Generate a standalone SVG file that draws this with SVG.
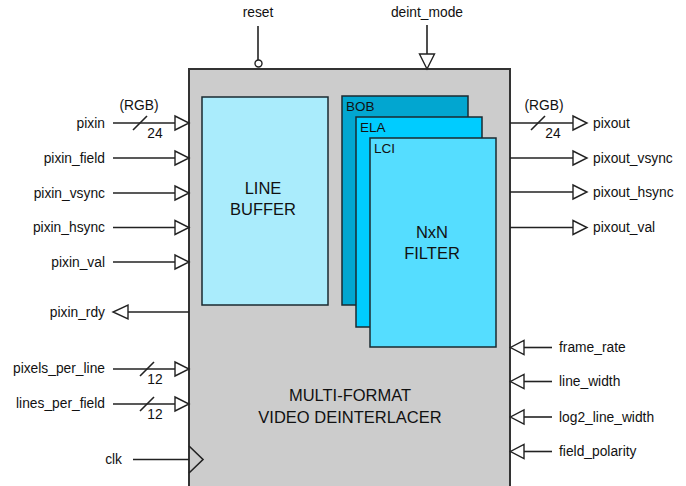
<svg xmlns="http://www.w3.org/2000/svg" width="686" height="486" viewBox="0 0 686 486">
<style>
text{font-family:"Liberation Sans",Arial,sans-serif;fill:#111}
.lbl{font-size:13.8px}
.big{font-size:16.5px}
.sm{font-size:13.5px}
.w{stroke:#222;stroke-width:1.6;fill:none}
.tri{stroke:#222;stroke-width:1.4;fill:#fff;stroke-linejoin:miter}
.box{stroke:#1a2a30;stroke-width:1.5}
</style>
<rect width="686" height="486" fill="#fff"/>
<g id="deinterlacer">
<rect x="189" y="69" width="321" height="430" fill="#cccccc" stroke="#333" stroke-width="2"/>
<text class="big" x="350" y="401" text-anchor="middle">MULTI-FORMAT</text>
<text class="big" x="350" y="423" text-anchor="middle">VIDEO DEINTERLACER</text>
</g>
<g id="line_buffer">
<rect class="box" x="202" y="97" width="126" height="208" fill="#aaecfc"/>
<text class="big" x="263" y="194" text-anchor="middle">LINE</text>
<text class="big" x="263" y="215" text-anchor="middle">BUFFER</text>
</g>
<g id="bob">
<rect class="box" x="342" y="96" width="126" height="209" fill="#02a6d0"/>
<text class="sm" x="346" y="111">BOB</text>
</g>
<g id="ela">
<rect class="box" x="356" y="117" width="126" height="210" fill="#00ccff"/>
<text class="sm" x="360" y="132">ELA</text>
</g>
<g id="lci">
<rect class="box" x="370" y="138" width="126" height="209" fill="#55ddff"/>
<text class="sm" x="374" y="153">LCI</text>
<text class="big" x="432" y="238" text-anchor="middle">NxN</text>
<text class="big" x="432" y="259" text-anchor="middle">FILTER</text>
</g>
<g id="connectors">
<line class="w" x1="258" y1="26" x2="258" y2="60"/>
<circle cx="258.5" cy="63.5" r="3.5" fill="#fff" stroke="#222" stroke-width="1.4"/>
<line class="w" x1="427" y1="25" x2="427" y2="54"/>
<polygon class="tri" points="419.5,54 434.5,54 427,69"/>
<line class="w" x1="113" y1="123" x2="175" y2="123"/>
<polygon class="tri" points="175,116 175,130 189,123"/>
<line class="w" x1="133" y1="130" x2="147" y2="116"/>
<line class="w" x1="113" y1="158" x2="175" y2="158"/>
<polygon class="tri" points="175,151 175,165 189,158"/>
<line class="w" x1="113" y1="193" x2="175" y2="193"/>
<polygon class="tri" points="175,186 175,200 189,193"/>
<line class="w" x1="113" y1="227.5" x2="175" y2="227.5"/>
<polygon class="tri" points="175,220.5 175,234.5 189,227.5"/>
<line class="w" x1="113" y1="262" x2="175" y2="262"/>
<polygon class="tri" points="175,255 175,269 189,262"/>
<line class="w" x1="128" y1="312" x2="189" y2="312"/>
<polygon class="tri" points="128,305 128,319 113,312"/>
<line class="w" x1="113" y1="369" x2="175" y2="369"/>
<polygon class="tri" points="175,362 175,376 189,369"/>
<line class="w" x1="140" y1="376" x2="154" y2="362"/>
<line class="w" x1="113" y1="404" x2="175" y2="404"/>
<polygon class="tri" points="175,397 175,411 189,404"/>
<line class="w" x1="140" y1="411" x2="154" y2="397"/>
<line class="w" x1="133" y1="459.5" x2="189" y2="459.5"/>
<polyline class="w" points="189,446 203,459.5 189,473" stroke-width="1.4"/>
<line class="w" x1="510" y1="123" x2="573" y2="123"/>
<polygon class="tri" points="573,116 573,130 587,123"/>
<line class="w" x1="531" y1="130" x2="545" y2="116"/>
<line class="w" x1="510" y1="158" x2="573" y2="158"/>
<polygon class="tri" points="573,151 573,165 587,158"/>
<line class="w" x1="510" y1="192" x2="573" y2="192"/>
<polygon class="tri" points="573,185 573,199 587,192"/>
<line class="w" x1="510" y1="227.5" x2="573" y2="227.5"/>
<polygon class="tri" points="573,220.5 573,234.5 587,227.5"/>
<line class="w" x1="524" y1="347.5" x2="552" y2="347.5"/>
<polygon class="tri" points="524,340.5 524,354.5 510.5,347.5"/>
<line class="w" x1="524" y1="381.5" x2="552" y2="381.5"/>
<polygon class="tri" points="524,374.5 524,388.5 510.5,381.5"/>
<line class="w" x1="524" y1="417" x2="552" y2="417"/>
<polygon class="tri" points="524,410 524,424 510.5,417"/>
<line class="w" x1="524" y1="451.5" x2="552" y2="451.5"/>
<polygon class="tri" points="524,444.5 524,458.5 510.5,451.5"/>
</g>
<g id="labels">
<text class="lbl" x="258" y="17" text-anchor="middle">reset</text>
<text class="lbl" x="427" y="17" text-anchor="middle">deint_mode</text>
<text class="lbl" x="139" y="110" text-anchor="middle">(RGB)</text>
<text class="lbl" x="155" y="138" text-anchor="middle">24</text>
<text class="lbl" x="105" y="128" text-anchor="end">pixin</text>
<text class="lbl" x="105" y="163" text-anchor="end">pixin_field</text>
<text class="lbl" x="105" y="198" text-anchor="end">pixin_vsync</text>
<text class="lbl" x="105" y="232" text-anchor="end">pixin_hsync</text>
<text class="lbl" x="105" y="267" text-anchor="end">pixin_val</text>
<text class="lbl" x="105" y="317" text-anchor="end">pixin_rdy</text>
<text class="lbl" x="105" y="373" text-anchor="end">pixels_per_line</text>
<text class="lbl" x="155" y="384" text-anchor="middle">12</text>
<text class="lbl" x="105" y="408" text-anchor="end">lines_per_field</text>
<text class="lbl" x="155" y="419" text-anchor="middle">12</text>
<text class="lbl" x="122" y="464" text-anchor="end">clk</text>
<text class="lbl" x="544" y="110" text-anchor="middle">(RGB)</text>
<text class="lbl" x="553" y="138" text-anchor="middle">24</text>
<text class="lbl" x="593" y="128">pixout</text>
<text class="lbl" x="593" y="163">pixout_vsync</text>
<text class="lbl" x="593" y="197">pixout_hsync</text>
<text class="lbl" x="593" y="232">pixout_val</text>
<text class="lbl" x="559" y="352">frame_rate</text>
<text class="lbl" x="559" y="386">line_width</text>
<text class="lbl" x="559" y="422">log2_line_width</text>
<text class="lbl" x="559" y="456">field_polarity</text>
</g>
</svg>
